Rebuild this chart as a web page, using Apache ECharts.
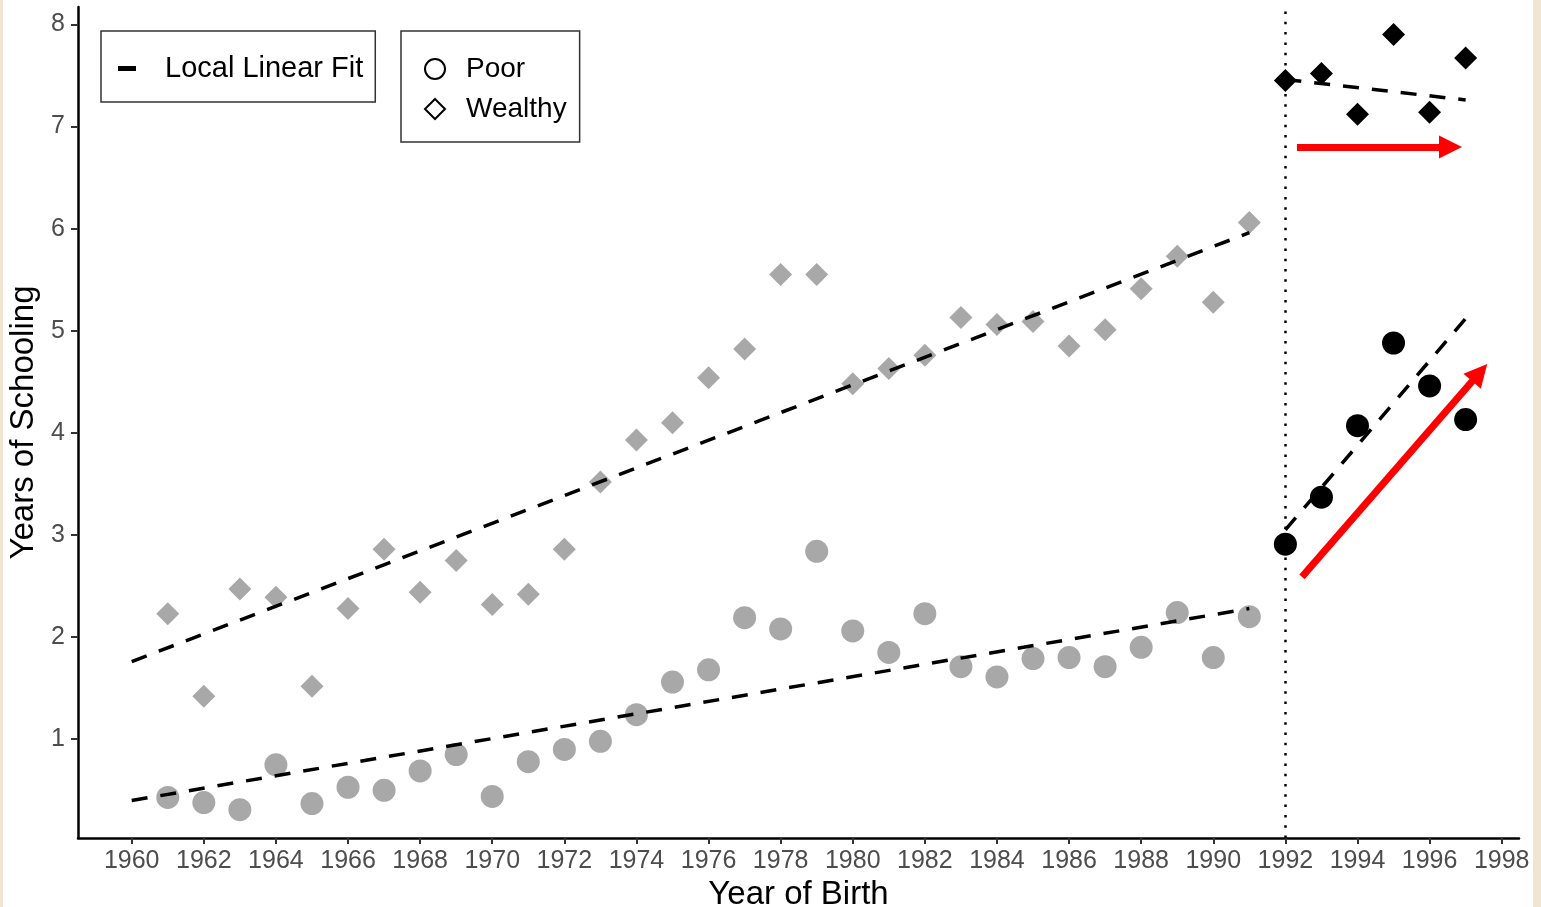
<!DOCTYPE html>
<html>
<head>
<meta charset="utf-8">
<script src="https://cdn.jsdelivr.net/npm/echarts@6.0.0/dist/echarts.min.js"></script>
<style>
  html, body { margin: 0; padding: 0; background: #efe5d2; }
  #chart { position: absolute; left: 3px; top: 0; width: 1530px; height: 907px; background: #ffffff; }
</style>
</head>
<body>
<div id="chart"></div>
<script>
// ---- data ----
const preYears = [1961,1962,1963,1964,1965,1966,1967,1968,1969,1970,1971,1972,1973,1974,1975,1976,1977,1978,1979,1980,1981,1982,1983,1984,1985,1986,1987,1988,1989,1990,1991];
const poorPre = [0.43,0.38,0.31,0.75,0.37,0.53,0.50,0.69,0.85,0.44,0.78,0.90,0.98,1.24,1.56,1.68,2.19,2.08,2.84,2.06,1.85,2.23,1.71,1.61,1.79,1.80,1.71,1.90,2.24,1.80,2.20];
const wealthyPre = [2.23,1.42,2.47,2.39,1.52,2.28,2.86,2.44,2.75,2.32,2.42,2.86,3.52,3.93,4.10,4.54,4.82,5.55,5.55,4.48,4.63,4.76,5.13,5.06,5.09,4.85,5.01,5.41,5.73,5.28,6.06];
const postYears = [1992,1993,1994,1995,1996,1997];
const poorPost = [2.91,3.37,4.07,4.88,4.46,4.13];
const wealthyPost = [7.45,7.52,7.12,7.90,7.14,7.67];

const fitYearsPre = [1960, 1991];
const poorFitPre = [0.40, 2.28];
const wealthyFitPre = [1.76, 5.96];
const fitYearsPost = [1992, 1997];
const poorFitPost = [3.05, 5.12];
const wealthyFitPost = [7.46, 7.26];

const cutoffYear = 1992;
// red annotation arrows: [x, y] start and end in data units
const arrowWealthy = [[1992.32, 6.80], [1996.58, 6.80]];
const arrowPoor = [[1992.46, 2.59], [1997.39, 4.59]];

const xTickValues = [1960,1962,1964,1966,1968,1970,1972,1974,1976,1978,1980,1982,1984,1986,1988,1990,1992,1994,1996,1998];
const yTickValues = [1,2,3,4,5,6,7,8];

const seriesNames = { poor: 'Poor', wealthy: 'Wealthy', fit: 'Local Linear Fit' };

// ---- build ----
const pairs = (xs, ys) => xs.map((x, i) => [x, ys[i]]);
const FONT = '"Liberation Sans", Arial, sans-serif';
const GREY = '#a8a8a8';

function scatter(name, data, symbol, color, z, extra) {
  return Object.assign({
    type: 'scatter', name, data, symbol, symbolSize: 23, z,
    itemStyle: { color, opacity: 1 },
    emphasis: { disabled: true }, silent: true
  }, extra || {});
}
function fit(data) {
  return {
    type: 'line', name: seriesNames.fit, data, showSymbol: false, symbol: 'none', z: 5,
    lineStyle: { color: '#000', width: 3.5, type: [16, 13] },
    emphasis: { disabled: true }, silent: true
  };
}

const chart = echarts.init(document.getElementById('chart'), null, { renderer: 'canvas' });
chart.setOption({
  animation: false,
  backgroundColor: '#ffffff',
  textStyle: { fontFamily: FONT },
  grid: { left: 75, right: 14, top: 7, bottom: 69, containLabel: false, outerBoundsMode: 'none' },
  xAxis: {
    type: 'value', min: 1958.51, max: 1998.48,
    name: 'Year of Birth', nameLocation: 'middle', nameGap: 38,
    nameTextStyle: { fontSize: 33, color: '#000', fontFamily: FONT },
    axisLine: { show: true, lineStyle: { color: '#000', width: 2.5 } },
    axisTick: { show: true, customValues: xTickValues, length: 6, lineStyle: { color: '#333', width: 2 } },
    axisLabel: { customValues: xTickValues, formatter: v => String(v), fontSize: 25, color: '#4d4d4d', margin: 11, fontFamily: FONT },
    splitLine: { show: false }
  },
  yAxis: {
    type: 'value', min: 0.033, max: 8.17,
    name: 'Years of Schooling', nameLocation: 'middle', nameGap: 31,
    nameTextStyle: { fontSize: 33, color: '#000', fontFamily: FONT },
    axisLine: { show: true, lineStyle: { color: '#000', width: 2.5 } },
    axisTick: { show: true, customValues: yTickValues, length: 7, lineStyle: { color: '#333', width: 2 } },
    axisLabel: { customValues: yTickValues, formatter: v => String(v), fontSize: 25, color: '#4d4d4d', margin: 13, fontFamily: FONT },
    splitLine: { show: false }
  },
  legend: [
    {
      data: [{ name: seriesNames.fit, icon: 'rect', itemStyle: { color: '#000' } }],
      left: 98, top: 31, orient: 'vertical', selectedMode: false,
      itemWidth: 18, itemHeight: 5,
      padding: [23, 12, 19, 17],
      borderColor: '#333', borderWidth: 1.5, backgroundColor: '#fff',
      textStyle: { fontSize: 29, color: '#000', fontFamily: FONT, padding: [0, 0, 0, 24] }
    },
    {
      data: [
        { name: seriesNames.poor, icon: 'circle', itemStyle: { color: '#fff', borderColor: '#000', borderWidth: 2 } },
        { name: seriesNames.wealthy, icon: 'diamond', itemStyle: { color: '#fff', borderColor: '#000', borderWidth: 2 } }
      ],
      left: 398, top: 31, orient: 'vertical', selectedMode: false,
      itemWidth: 20, itemHeight: 20, itemGap: 12,
      padding: [24, 13, 19, 23],
      borderColor: '#333', borderWidth: 1.5, backgroundColor: '#fff',
      textStyle: { fontSize: 28, color: '#000', fontFamily: FONT, padding: [0, 0, 0, 16] }
    }
  ],
  series: [
    scatter(seriesNames.poor, pairs(preYears, poorPre), 'circle', GREY, 2, {
      markLine: {
        silent: true, symbol: 'none', label: { show: false }, emphasis: { disabled: true },
        lineStyle: { color: '#000', width: 2.5, type: [2.5, 7.8] },
        data: [{ xAxis: cutoffYear }]
      }
    }),
    scatter(seriesNames.wealthy, pairs(preYears, wealthyPre), 'diamond', GREY, 2),
    scatter(seriesNames.poor, pairs(postYears, poorPost), 'circle', '#000', 3),
    scatter(seriesNames.wealthy, pairs(postYears, wealthyPost), 'diamond', '#000', 3),
    fit(pairs(fitYearsPre, poorFitPre)),
    fit(pairs(fitYearsPre, wealthyFitPre)),
    fit(pairs(fitYearsPost, poorFitPost)),
    fit(pairs(fitYearsPost, wealthyFitPost)),
    {
      type: 'line', name: 'arrows', data: [], z: 6, silent: true,
      markLine: {
        silent: true, symbol: ['none', 'triangle'], symbolSize: 23,
        label: { show: false }, emphasis: { disabled: true },
        lineStyle: { color: '#ff0000', width: 7, type: 'solid' },
        data: [
          [{ coord: arrowWealthy[0] }, { coord: arrowWealthy[1] }],
          [{ coord: arrowPoor[0] }, { coord: arrowPoor[1] }]
        ]
      }
    }
  ]
});
</script>
</body>
</html>
